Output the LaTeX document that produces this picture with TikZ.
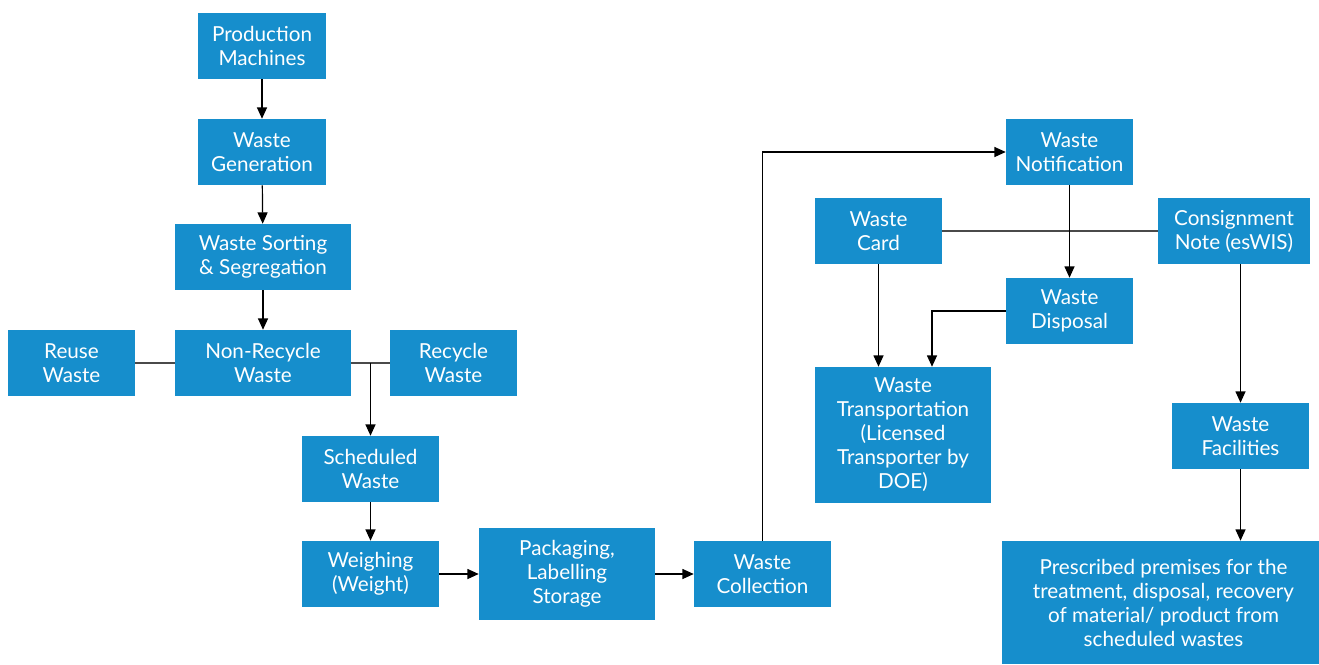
\documentclass[tikz,border=0pt]{standalone}
\usepackage{fontspec}
\setmainfont{Lato}
\usetikzlibrary{arrows.meta}
\definecolor{wblue}{HTML}{168ECC}
\definecolor{linkgray}{HTML}{4A4A4A}
\tikzset{
  stage/.style={fill=wblue, text=white, align=center, inner sep=0pt,
    font=\fontsize{15.5pt}{18pt}\selectfont, minimum height=49.5pt},
  w96/.style={minimum width=96pt},
  w95/.style={minimum width=95.25pt},
  w132/.style={minimum width=132pt},
  w103/.style={minimum width=102.75pt},
  w114/.style={minimum width=114pt},
  flow/.style={draw=black, line width=0.9pt, -{Triangle[length=8.5pt,width=7.5pt]}},
  link/.style={draw=linkgray, line width=1.2pt},
}
\begin{document}
\begin{tikzpicture}[x=0.75pt,y=-0.75pt]
\useasboundingbox (0,0) rectangle (1319,664);

% left column: from the machines down to the split
\node[stage,w96]  (pm)   at (262,46)    {Production\\Machines};
\node[stage,w96]  (gen)  at (262,152)   {Waste\\Generation};
\node[stage,w132] (sort) at (263,257)   {Waste Sorting\\\& Segregation};
\node[stage,w132] (nrw)  at (263,363)   {Non-Recycle\\Waste};
\node[stage,w95]  (reuse) at (71.5,363) {Reuse\\Waste};
\node[stage,w95]  (recyc) at (453.5,363) {Recycle\\Waste};
\node[stage,w103] (sched) at (370.5,469) {Scheduled\\Waste};
\node[stage,w103] (weigh) at (370.5,574) {Weighing\\(Weight)};
\node[stage,w132,minimum height=69pt] (pack) at (567,574) {Packaging,\\Labelling\\Storage};
\node[stage,w103] (coll) at (762.5,574) {Waste\\Collection};

% right part: documentation and final treatment
\node[stage,w95]  (notif) at (1069.5,152) {Waste\\Notification};
\node[stage,w95]  (card)  at (878.5,231)  {Waste\\Card};
\node[stage,w114] (cons)  at (1234,231)   {Consignment\\Note (esWIS)};
\node[stage,w95]  (disp)  at (1069.5,311) {Waste\\Disposal};
\node[stage,w132,minimum height=102pt] (trans) at (903,435)
  {Waste\\Transportation\\(Licensed\\Transporter by\\DOE)};
\node[stage,w103] (fac)   at (1240.5,436) {Waste\\Facilities};
\node[stage,minimum width=242.25pt,minimum height=92.25pt] (prem) at (1163.5,602.5)
  {Prescribed premises for the\\treatment, disposal, recovery\\of material/ product from\\scheduled wastes};

% connectors
\draw[flow] (pm) -- (gen);
\draw[flow] (gen) -- (sort);
\draw[flow] (sort) -- (nrw);
\draw[link] (reuse) -- (nrw);
\draw[link] (nrw) -- (recyc);
\draw[flow] (sched.north |- nrw.east) -- (sched.north);
\draw[flow] (sched) -- (weigh);
\draw[flow] (weigh) -- (pack);
\draw[flow] (pack) -- (coll);
\draw[flow] (coll.north) |- (notif.west);
\draw[link] (card) -- (cons);
\draw[flow] (notif) -- (disp);
\draw[flow] (card.south) -- (card.south |- trans.north);
\draw[flow] (disp.west) -| ([xshift=21.75pt]trans.north);
\draw[flow] (fac.north |- cons.south) -- (fac.north);
\draw[flow] (fac.south) -- (fac.south |- prem.north);
\end{tikzpicture}
\end{document}
